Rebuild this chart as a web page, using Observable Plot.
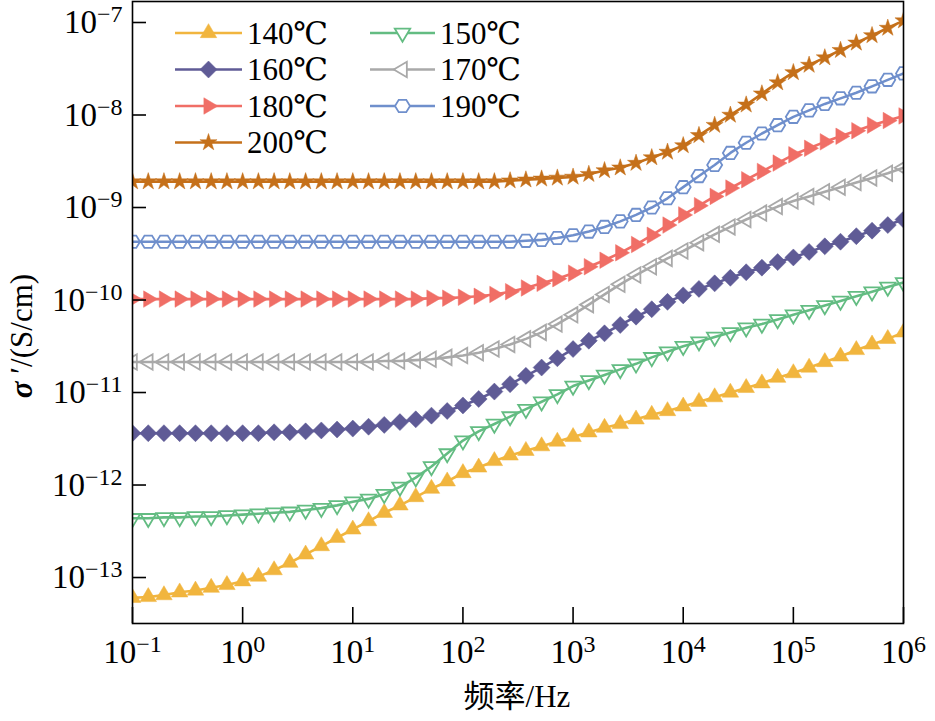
<!DOCTYPE html>
<html>
<head>
<meta charset="utf-8">
<script src="https://cdn.jsdelivr.net/npm/d3@7"></script>
<script src="https://cdn.jsdelivr.net/npm/@observablehq/plot@0.6"></script>
<style>
html, body { margin: 0; padding: 0; background: #fff; }
#chart { width: 935px; height: 721px; }
#chart svg text { font-family: "Liberation Serif", "Times New Roman", serif; }
#chart svg .cjk { font-family: "Noto Sans CJK SC", "Noto Sans CJK JP", sans-serif; }
#chart svg .deg { font-family: "DejaVu Serif", "Liberation Serif", serif; }
</style>
</head>
<body>
<div id="chart"></div>
<script>
// ---------------- DATA ----------------
const freqHz = [0.1,0.139,0.193,0.268,0.373,0.518,0.72,1,1.39,1.93,2.68,3.73,5.18,7.2,10,13.9,19.3,26.8,37.3,51.8,72,100,139,193,268,373,518,720,1000,1390,1930,2680,3730,5180,7200,1e4,13900,19300,26800,37300,51800,72000,1e5,139000,193000,268000,373000,518000,720000,1e6];

const seriesNames = ["140℃","150℃","160℃","170℃","180℃","190℃","200℃"];

// log10 of σ' (S/cm) read at each frequency
const log10Sigma140 = [-13.22,-13.21,-13.19,-13.16,-13.14,-13.11,-13.08,-13.04,-12.99,-12.92,-12.84,-12.75,-12.66,-12.57,-12.48,-12.39,-12.30,-12.22,-12.13,-12.04,-11.96,-11.87,-11.81,-11.74,-11.68,-11.63,-11.58,-11.53,-11.48,-11.43,-11.38,-11.34,-11.29,-11.24,-11.20,-11.15,-11.10,-11.05,-11.00,-10.95,-10.90,-10.84,-10.79,-10.73,-10.67,-10.61,-10.54,-10.48,-10.42,-10.35];
const log10Sigma150 = [-12.36,-12.36,-12.35,-12.35,-12.34,-12.34,-12.33,-12.32,-12.31,-12.30,-12.29,-12.27,-12.25,-12.22,-12.18,-12.15,-12.10,-12.02,-11.92,-11.80,-11.66,-11.52,-11.42,-11.34,-11.26,-11.18,-11.10,-11.02,-10.93,-10.87,-10.81,-10.75,-10.69,-10.62,-10.56,-10.50,-10.45,-10.40,-10.35,-10.30,-10.26,-10.21,-10.16,-10.11,-10.06,-10.01,-9.96,-9.91,-9.86,-9.81];
const log10Sigma160 = [-11.44,-11.44,-11.44,-11.44,-11.44,-11.44,-11.44,-11.44,-11.44,-11.43,-11.43,-11.42,-11.41,-11.40,-11.39,-11.37,-11.35,-11.32,-11.29,-11.25,-11.20,-11.14,-11.07,-10.99,-10.91,-10.82,-10.73,-10.63,-10.53,-10.44,-10.36,-10.27,-10.18,-10.10,-10.02,-9.95,-9.88,-9.82,-9.76,-9.70,-9.65,-9.59,-9.54,-9.48,-9.42,-9.37,-9.31,-9.25,-9.19,-9.13];
const log10Sigma170 = [-10.67,-10.67,-10.67,-10.67,-10.67,-10.67,-10.67,-10.67,-10.67,-10.67,-10.67,-10.67,-10.67,-10.67,-10.67,-10.67,-10.66,-10.66,-10.65,-10.64,-10.62,-10.60,-10.57,-10.53,-10.48,-10.42,-10.35,-10.26,-10.16,-10.05,-9.94,-9.83,-9.73,-9.64,-9.55,-9.47,-9.38,-9.29,-9.21,-9.13,-9.06,-8.99,-8.93,-8.88,-8.83,-8.78,-8.73,-8.68,-8.63,-8.57];
const log10Sigma180 = [-9.99,-9.99,-9.99,-9.99,-9.99,-9.99,-9.99,-9.99,-9.99,-9.99,-9.99,-9.99,-9.99,-9.99,-9.99,-9.99,-9.99,-9.99,-9.99,-9.98,-9.98,-9.97,-9.96,-9.94,-9.91,-9.87,-9.82,-9.77,-9.71,-9.64,-9.57,-9.49,-9.40,-9.30,-9.19,-9.08,-8.98,-8.88,-8.79,-8.70,-8.61,-8.52,-8.43,-8.36,-8.29,-8.23,-8.17,-8.11,-8.06,-8.01];
const log10Sigma190 = [-9.37,-9.37,-9.37,-9.37,-9.37,-9.37,-9.37,-9.37,-9.37,-9.37,-9.37,-9.37,-9.37,-9.37,-9.37,-9.37,-9.37,-9.37,-9.37,-9.37,-9.37,-9.37,-9.37,-9.37,-9.37,-9.36,-9.35,-9.33,-9.30,-9.26,-9.21,-9.15,-9.08,-9.00,-8.90,-8.78,-8.66,-8.54,-8.41,-8.30,-8.20,-8.11,-8.02,-7.95,-7.88,-7.82,-7.76,-7.69,-7.62,-7.55];
const log10Sigma200 = [-8.72,-8.72,-8.72,-8.72,-8.72,-8.72,-8.72,-8.72,-8.72,-8.72,-8.72,-8.72,-8.72,-8.72,-8.72,-8.72,-8.72,-8.72,-8.72,-8.72,-8.72,-8.72,-8.72,-8.72,-8.71,-8.70,-8.69,-8.68,-8.67,-8.64,-8.60,-8.57,-8.52,-8.46,-8.40,-8.33,-8.22,-8.11,-8.00,-7.89,-7.77,-7.65,-7.54,-7.46,-7.38,-7.30,-7.22,-7.14,-7.06,-6.98];

const xTickValues = [1e-1,1e0,1e1,1e2,1e3,1e4,1e5,1e6];
const yTickValues = [1e-13,1e-12,1e-11,1e-10,1e-9,1e-8,1e-7];

// ---------------- STYLE ----------------
const seriesColors = ["#F1B53E","#63BC82","#5F5B96","#A9A9A9","#F06E66","#6F8FCC","#C5701A"];
const seriesFilled = [true,false,true,false,true,false,true];

// custom symbols with a fixed size in px (the size argument is ignored)
function triangle(angleDeg, R) {
  return {
    draw(ctx) {
      const pts = [[0, -1.25 * R], [1.1 * R, 0.62 * R], [-1.1 * R, 0.62 * R]];
      const a = angleDeg * Math.PI / 180, c = Math.cos(a), s = Math.sin(a);
      pts.forEach(([px, py], i) => {
        const X = px * c - py * s, Y = px * s + py * c;
        i ? ctx.lineTo(X, Y) : ctx.moveTo(X, Y);
      });
      ctx.closePath();
    }
  };
}
function diamond(h) {
  return { draw(ctx) { ctx.moveTo(0, -h); ctx.lineTo(h, 0); ctx.lineTo(0, h); ctx.lineTo(-h, 0); ctx.closePath(); } };
}
function hexagon(R) {
  return {
    draw(ctx) {
      for (let i = 0; i < 6; i++) {
        const a = i * Math.PI / 3;
        const X = R * Math.cos(a), Y = 0.95 * R * Math.sin(a);
        i ? ctx.lineTo(X, Y) : ctx.moveTo(X, Y);
      }
      ctx.closePath();
    }
  };
}
function star(outer) {
  return { draw(ctx) { d3.symbolStar.draw(ctx, outer * outer / 0.8908130915292852); } };
}
const seriesSymbols = [triangle(0, 7.5), triangle(180, 7), diamond(8.5), triangle(-90, 7), triangle(90, 7.5), hexagon(7.5), star(9)];

// ---------------- TABLE ----------------
const allLogs = [log10Sigma140, log10Sigma150, log10Sigma160, log10Sigma170, log10Sigma180, log10Sigma190, log10Sigma200];
const rows = [];
seriesNames.forEach((name, si) => {
  allLogs[si].forEach((v, i) => rows.push({series: name, si, f: freqHz[i], sigma: Math.pow(10, v)}));
});

const fmtExp = d => String(Math.round(Math.log10(d))).replace("-", "−");

const marks = [];
seriesNames.forEach((name, si) => {
  const data = rows.filter(r => r.si === si);
  marks.push(Plot.line(data, {x: "f", y: "sigma", stroke: seriesColors[si], strokeWidth: 2.6, clip: true}));
  marks.push(Plot.dot(data, {
    x: "f", y: "sigma", r: 8, symbol: seriesSymbols[si],
    fill: seriesFilled[si] ? seriesColors[si] : "none",
    stroke: seriesColors[si], strokeWidth: seriesFilled[si] ? 0.5 : 1.8,
    clip: true
  }));
});

const chart = Plot.plot({
  width: 935, height: 721,
  marginLeft: 132, marginRight: 32, marginTop: 1, marginBottom: 98,
  style: {fontFamily: '"Liberation Serif", "Times New Roman", serif', fontSize: "33px", color: "#000", background: "#fff", overflow: "visible"},
  x: {type: "log", domain: [0.1, 1e6]},
  y: {type: "log", domain: [Math.pow(10, -13.497), Math.pow(10, -6.773)]},
  marks: [
    ...marks,
    Plot.frame({stroke: "#000", strokeWidth: 1.6}),
    Plot.axisX({ticks: xTickValues, tickSize: -16, tickPadding: 32, strokeWidth: 1.6, tickFormat: fmtExp, label: null}),
    Plot.axisY({ticks: yTickValues, tickSize: -14, tickPadding: 24, strokeWidth: 1.6, tickFormat: fmtExp, label: null})
  ]
});

document.getElementById("chart").appendChild(chart);

const svg = d3.select(chart);
// superscript tick labels
svg.selectAll('g[aria-label="x-axis tick label"] text, g[aria-label="y-axis tick label"] text').each(function () {
  const t = d3.select(this);
  const exp = t.text();
  t.text(null);
  t.append("tspan").text("10");
  t.append("tspan").attr("dy", "-11").attr("font-size", "24px").text(exp);
});

// axis titles
const xl = svg.append("text")
  .attr("x", 517).attr("y", 707)
  .attr("text-anchor", "middle")
  .attr("font-size", "31px")
  .attr("fill", "#000");
xl.append("tspan").attr("class", "cjk").text("频率");
xl.append("tspan").text("/Hz");

const yl = svg.append("text")
  .attr("transform", "translate(32,336) rotate(-90)")
  .attr("text-anchor", "middle")
  .attr("font-size", "31px")
  .attr("fill", "#000");
yl.append("tspan").attr("font-style", "italic").attr("font-weight", "bold").text("σ");
yl.append("tspan").text(" ′/(S/cm)");

// legend
const legend = svg.append("g").attr("text-anchor", "start");
const legendCols = [{x0: 175, x1: 242}, {x0: 370, x1: 435}];
seriesNames.forEach((name, si) => {
  const col = legendCols[si % 2], row = Math.floor(si / 2);
  const y = 33 + row * 36.5;
  const g = legend.append("g");
  g.append("line").attr("x1", col.x0).attr("x2", col.x1).attr("y1", y).attr("y2", y)
    .attr("stroke", seriesColors[si]).attr("stroke-width", 2.6);
  g.append("path")
    .attr("d", d3.symbol(seriesSymbols[si])())
    .attr("transform", `translate(${(col.x0 + col.x1) / 2},${y})`)
    .attr("fill", seriesFilled[si] ? seriesColors[si] : "#fff")
    .attr("stroke", seriesColors[si])
    .attr("stroke-width", seriesFilled[si] ? 0.5 : 1.8);
  const t = g.append("text").attr("x", col.x1 + 5).attr("y", y).attr("dy", "0.35em")
    .attr("text-anchor", "start")
    .attr("font-size", "31px").attr("fill", "#000");
  t.append("tspan").text(name.replace("℃", ""));
  t.append("tspan").attr("class", "deg").text("℃");
});
</script>
</body>
</html>
